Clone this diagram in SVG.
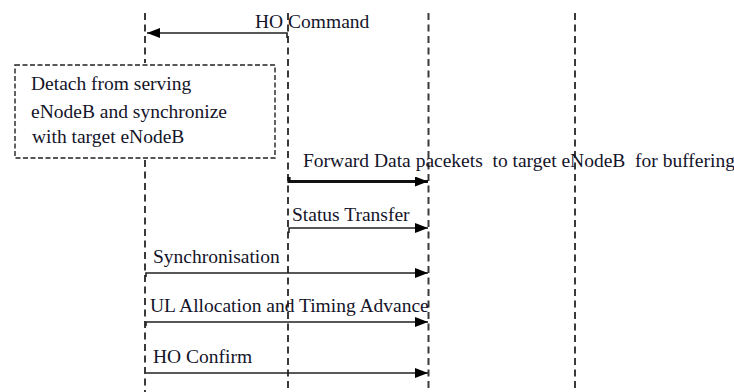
<svg xmlns="http://www.w3.org/2000/svg" width="734" height="392" viewBox="0 0 734 392">
<style>
.life{stroke:#3a3a3a;stroke-width:2;stroke-dasharray:7 4.5;fill:none}
.msg{stroke:#222;stroke-width:1.6;fill:none}
.thick{stroke:#111;stroke-width:3.2;fill:none}
.box{fill:#fff;stroke:#222;stroke-width:1.4;stroke-dasharray:5 2.5}
.t{font-family:'Liberation Serif','DejaVu Serif',serif;font-size:19.5px;fill:#14142a}
</style>
<defs>
<marker id="ah" markerUnits="userSpaceOnUse" markerWidth="14" markerHeight="11" refX="13" refY="5" orient="auto">
<path d="M0,0 L13,5 L0,10 z" fill="#000"/>
</marker>
</defs>
<g id="lifelines">
<path class="life" d="M145,13 V63 M145,160 V392"/>
<path class="life" d="M288,13 V392"/>
<path class="life" d="M428.5,13 V392"/>
<path class="life" d="M575,13 V392"/>
</g>
<g id="connectors">
<path class="msg" d="M287,38 V33 H147" marker-end="url(#ah)"/>
<path class="thick" d="M289,177 V181.5 H428" marker-end="url(#ah)"/>
<path class="msg" d="M289,233 V228 H428" marker-end="url(#ah)"/>
<path class="msg" d="M146,277 V273 H428" marker-end="url(#ah)"/>
<path class="msg" d="M146,326 V322 H428" marker-end="url(#ah)"/>
<path class="msg" d="M146,373 H428" marker-end="url(#ah)"/>
</g>
<g id="detach-box" class="t">
<rect class="box" x="15" y="65" width="260" height="93"/>
<text x="31" y="90">Detach from serving</text>
<text x="31" y="118">eNodeB and synchronize</text>
<text x="32" y="143">with target eNodeB</text>
</g>
<g id="labels" class="t">
<text x="255" y="28">HO Command</text>
<text x="303" y="167" xml:space="preserve">Forward Data pacekets  to target eNodeB  for buffering</text>
<text x="292" y="221">Status Transfer</text>
<text x="153" y="263">Synchronisation</text>
<text x="150" y="312">UL Allocation and Timing Advance</text>
<text x="153" y="363">HO Confirm</text>
</g>
</svg>
